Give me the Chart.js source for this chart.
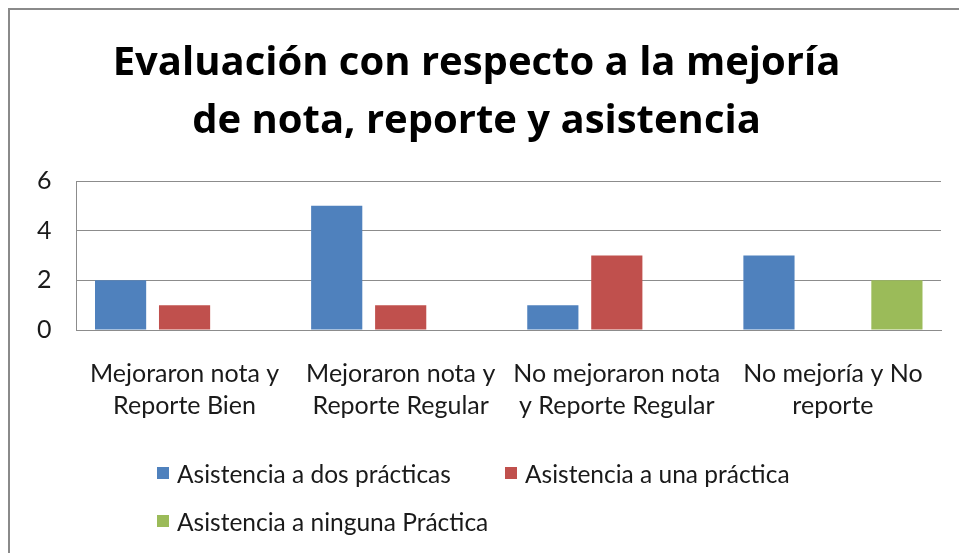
<!DOCTYPE html>
<html>
<head>
<meta charset="utf-8">
<script src="https://cdn.jsdelivr.net/npm/chart.js@4/dist/chart.umd.min.js"></script>
<style>
  html, body { margin: 0; padding: 0; background: #fff; }
  #wrap { position: relative; width: 959px; height: 553px; overflow: hidden; }
  #frame { position: absolute; left: 8px; top: 8px; width: 960px; height: 560px;
           border-left: 2px solid #8a8a8a; border-top: 2px solid #8a8a8a; box-sizing: border-box; }
  #chart { position: absolute; left: 0; top: 0; }
  #legend { position: absolute; left: 157px; top: 449px; display: grid;
            grid-template-columns: 348px auto; grid-auto-rows: 48px;
            font-family: Lato, "Open Sans", sans-serif; font-size: 24.5px; color: #1a1a1a; }
  .item { display: flex; align-items: center; white-space: nowrap; }
  .box { width: 12px; height: 12px; margin-right: 8px; flex: none; }
</style>
</head>
<body>
<div id="wrap">
  <div id="frame"></div>
  <canvas id="chart" width="959" height="553"></canvas>
  <div id="legend"></div>
</div>
<script>
// datos
const categorias = [
    ['Mejoraron nota y', 'Reporte Bien'],
    ['Mejoraron nota y', 'Reporte Regular'],
    ['No mejoraron nota', 'y Reporte Regular'],
    ['No mejoría y No', 'reporte']
];
const dosPracticas = [2, 5, 1, 3];
const unaPractica = [1, 1, 3, 0];
const ningunaPractica = [0, 0, 0, 2];
const nombresSeries = ['Asistencia a dos prácticas', 'Asistencia a una práctica', 'Asistencia a ninguna Práctica'];
const colores = ['#4f81bd', '#c0504d', '#9bbb59'];
const ticksY = [0, 2, 4, 6];

const fuente = 'Lato, "Open Sans", sans-serif';
const gris = '#8c8c8c';

const series = [dosPracticas, unaPractica, ningunaPractica];

const ctx = document.getElementById('chart').getContext('2d');
new Chart(ctx, {
    type: 'bar',
    data: {
        labels: categorias,
        datasets: series.map((vals, i) => ({
            label: nombresSeries[i],
            data: vals,
            backgroundColor: colores[i],
            borderWidth: 0,
            categoryPercentage: 0.888,
            barPercentage: 0.8
        }))
    },
    options: {
        responsive: false,
        animation: false,
        layout: { padding: { top: 10, left: 12, right: 18, bottom: 103 } },
        plugins: {
            legend: { display: false },
            tooltip: { enabled: false },
            title: {
                display: true,
                text: ['Evaluación con respecto a la mejoría', 'de nota, reporte y asistencia'],
                color: '#000',
                font: { family: '"Open Sans", Lato, sans-serif', size: 40, weight: 'bold', lineHeight: 1.45 },
                padding: { top: 25, bottom: 30 }
            }
        },
        scales: {
            x: {
                grid: { display: false, drawTicks: false },
                border: { display: true, color: gris, width: 1 },
                ticks: { color: '#1a1a1a', padding: 28, maxRotation: 0, autoSkip: false,
                         font: { family: fuente, size: 25, lineHeight: 1.28 } }
            },
            y: {
                min: 0,
                max: 6,
                afterBuildTicks: axis => { axis.ticks = ticksY.map(v => ({ value: v })); },
                grid: { color: gris, lineWidth: 1, drawTicks: false },
                border: { display: true, color: gris, width: 1 },
                ticks: { color: '#1a1a1a', padding: 25, font: { family: fuente, size: 25 } }
            }
        }
    }
});

// leyenda
const legend = document.getElementById('legend');
nombresSeries.forEach((nombre, i) => {
    const item = document.createElement('div');
    item.className = 'item';
    item.innerHTML = '<span class="box" style="background:' + colores[i] + '"></span><span>' + nombre + '</span>';
    legend.appendChild(item);
});
</script>
</body>
</html>
